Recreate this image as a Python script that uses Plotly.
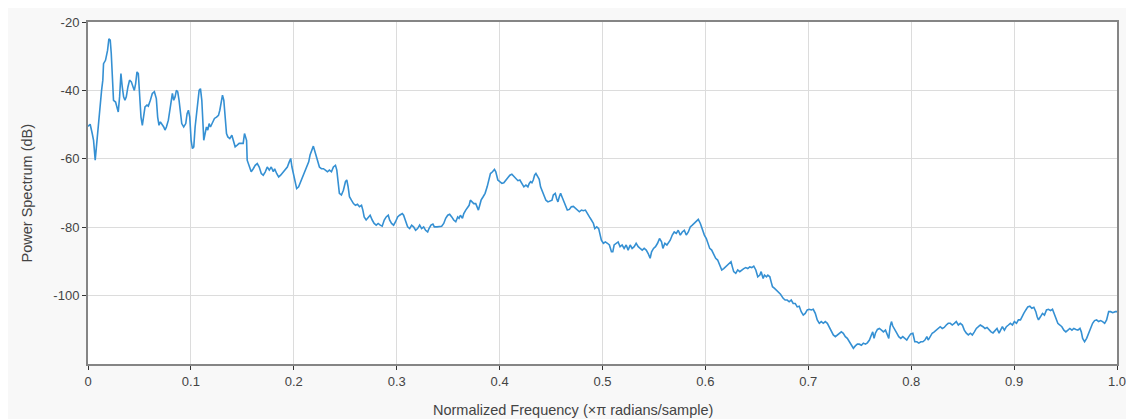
import plotly.graph_objects as go

# Normalized frequency (x pi rad/sample) and power spectrum estimate (dB)
freq = [
    0.0000, 0.0021, 0.0041, 0.0054, 0.0070, 0.0086, 0.0106, 0.0119, 0.0132, 0.0144,
    0.0151, 0.0170, 0.0190, 0.0203, 0.0216, 0.0226, 0.0235, 0.0248, 0.0268, 0.0281,
    0.0294, 0.0307, 0.0320, 0.0333, 0.0346, 0.0359, 0.0372, 0.0388, 0.0404, 0.0421,
    0.0437, 0.0450, 0.0463, 0.0476, 0.0489, 0.0502, 0.0515, 0.0528, 0.0541, 0.0554,
    0.0573, 0.0586, 0.0606, 0.0625, 0.0645, 0.0664, 0.0677, 0.0690, 0.0703, 0.0716,
    0.0736, 0.0748, 0.0762, 0.0781, 0.0794, 0.0807, 0.0820, 0.0833, 0.0846, 0.0859,
    0.0872, 0.0885, 0.0898, 0.0911, 0.0930, 0.0950, 0.0963, 0.0976, 0.0989, 0.1002,
    0.1015, 0.1028, 0.1041, 0.1054, 0.1067, 0.1080, 0.1093, 0.1106, 0.1119, 0.1125,
    0.1138, 0.1151, 0.1164, 0.1177, 0.1190, 0.1203, 0.1216, 0.1229, 0.1249, 0.1268,
    0.1281, 0.1294, 0.1307, 0.1320, 0.1333, 0.1346, 0.1359, 0.1378, 0.1398, 0.1411,
    0.1430, 0.1450, 0.1469, 0.1489, 0.1508, 0.1521, 0.1541, 0.1547, 0.1567, 0.1586,
    0.1606, 0.1625, 0.1645, 0.1664, 0.1684, 0.1703, 0.1723, 0.1742, 0.1762, 0.1781,
    0.1801, 0.1814, 0.1833, 0.1853, 0.1872, 0.1898, 0.1917, 0.1937, 0.1956, 0.1970,
    0.1982, 0.1995, 0.2008, 0.2028, 0.2047, 0.2067, 0.2086, 0.2106, 0.2125, 0.2145,
    0.2158, 0.2177, 0.2190, 0.2210, 0.2229, 0.2249, 0.2268, 0.2288, 0.2307, 0.2327,
    0.2346, 0.2366, 0.2385, 0.2405, 0.2418, 0.2431, 0.2443, 0.2463, 0.2482, 0.2502,
    0.2515, 0.2528, 0.2541, 0.2560, 0.2580, 0.2599, 0.2619, 0.2638, 0.2658, 0.2671,
    0.2684, 0.2703, 0.2723, 0.2742, 0.2762, 0.2781, 0.2801, 0.2820, 0.2840, 0.2859,
    0.2879, 0.2898, 0.2918, 0.2931, 0.2950, 0.2970, 0.2989, 0.3009, 0.3028, 0.3054,
    0.3067, 0.3087, 0.3106, 0.3126, 0.3145, 0.3164, 0.3184, 0.3203, 0.3223, 0.3242,
    0.3262, 0.3281, 0.3301, 0.3314, 0.3333, 0.3352, 0.3366, 0.3392, 0.3418, 0.3437,
    0.3457, 0.3476, 0.3496, 0.3515, 0.3535, 0.3554, 0.3574, 0.3593, 0.3606, 0.3619,
    0.3639, 0.3652, 0.3671, 0.3684, 0.3704, 0.3716, 0.3736, 0.3749, 0.3768, 0.3782,
    0.3794, 0.3807, 0.3820, 0.3840, 0.3859, 0.3879, 0.3892, 0.3911, 0.3931, 0.3950,
    0.3963, 0.3983, 0.4002, 0.4022, 0.4041, 0.4061, 0.4080, 0.4100, 0.4119, 0.4139,
    0.4158, 0.4178, 0.4197, 0.4217, 0.4236, 0.4256, 0.4275, 0.4288, 0.4301, 0.4314,
    0.4327, 0.4340, 0.4353, 0.4372, 0.4385, 0.4398, 0.4411, 0.4431, 0.4450, 0.4470,
    0.4489, 0.4509, 0.4522, 0.4541, 0.4554, 0.4567, 0.4580, 0.4593, 0.4606, 0.4619,
    0.4639, 0.4658, 0.4678, 0.4697, 0.4717, 0.4736, 0.4756, 0.4775, 0.4795, 0.4814,
    0.4834, 0.4853, 0.4873, 0.4892, 0.4912, 0.4925, 0.4944, 0.4963, 0.4976, 0.4989,
    0.5009, 0.5028, 0.5048, 0.5067, 0.5087, 0.5100, 0.5113, 0.5132, 0.5152, 0.5171,
    0.5191, 0.5210, 0.5230, 0.5249, 0.5269, 0.5288, 0.5308, 0.5327, 0.5347, 0.5366,
    0.5386, 0.5405, 0.5425, 0.5444, 0.5463, 0.5477, 0.5496, 0.5515, 0.5535, 0.5554,
    0.5574, 0.5587, 0.5606, 0.5626, 0.5645, 0.5658, 0.5678, 0.5697, 0.5717, 0.5736,
    0.5756, 0.5775, 0.5795, 0.5814, 0.5834, 0.5853, 0.5873, 0.5892, 0.5912, 0.5931,
    0.5951, 0.5970, 0.5990, 0.6009, 0.6022, 0.6042, 0.6061, 0.6081, 0.6100, 0.6119,
    0.6139, 0.6159, 0.6178, 0.6197, 0.6217, 0.6236, 0.6249, 0.6262, 0.6275, 0.6295,
    0.6314, 0.6334, 0.6353, 0.6373, 0.6392, 0.6412, 0.6431, 0.6451, 0.6470, 0.6490,
    0.6509, 0.6529, 0.6542, 0.6561, 0.6574, 0.6594, 0.6607, 0.6626, 0.6639, 0.6652,
    0.6672, 0.6691, 0.6711, 0.6730, 0.6756, 0.6775, 0.6795, 0.6814, 0.6834, 0.6853,
    0.6873, 0.6892, 0.6912, 0.6931, 0.6951, 0.6970, 0.6990, 0.7009, 0.7029, 0.7048,
    0.7068, 0.7087, 0.7107, 0.7126, 0.7146, 0.7165, 0.7185, 0.7204, 0.7224, 0.7243,
    0.7263, 0.7282, 0.7301, 0.7321, 0.7340, 0.7360, 0.7379, 0.7399, 0.7418, 0.7438,
    0.7457, 0.7477, 0.7496, 0.7516, 0.7535, 0.7555, 0.7574, 0.7594, 0.7613, 0.7626,
    0.7639, 0.7652, 0.7672, 0.7691, 0.7711, 0.7730, 0.7750, 0.7769, 0.7782, 0.7795,
    0.7808, 0.7821, 0.7840, 0.7860, 0.7879, 0.7899, 0.7918, 0.7938, 0.7957, 0.7977,
    0.7996, 0.8016, 0.8035, 0.8055, 0.8074, 0.8094, 0.8113, 0.8133, 0.8152, 0.8165,
    0.8185, 0.8204, 0.8224, 0.8243, 0.8263, 0.8282, 0.8302, 0.8321, 0.8341, 0.8360,
    0.8380, 0.8399, 0.8419, 0.8438, 0.8458, 0.8477, 0.8497, 0.8516, 0.8536, 0.8555,
    0.8575, 0.8594, 0.8614, 0.8633, 0.8653, 0.8672, 0.8698, 0.8717, 0.8737, 0.8756,
    0.8776, 0.8795, 0.8815, 0.8834, 0.8854, 0.8867, 0.8886, 0.8906, 0.8925, 0.8945,
    0.8964, 0.8984, 0.9003, 0.9023, 0.9042, 0.9062, 0.9075, 0.9094, 0.9114, 0.9133,
    0.9153, 0.9172, 0.9192, 0.9211, 0.9224, 0.9237, 0.9256, 0.9276, 0.9295, 0.9315,
    0.9334, 0.9354, 0.9373, 0.9393, 0.9406, 0.9425, 0.9445, 0.9464, 0.9484, 0.9503,
    0.9523, 0.9542, 0.9562, 0.9581, 0.9601, 0.9620, 0.9640, 0.9653, 0.9666, 0.9685,
    0.9705, 0.9724, 0.9743, 0.9763, 0.9782, 0.9802, 0.9821, 0.9841, 0.9860, 0.9880,
    0.9899, 0.9919, 0.9938, 0.9958, 0.9984, 1.0000,
]

power_db = [
    -50.5, -49.9, -52.6, -54.6, -60.4, -54.6, -48.7, -44.8, -40.0, -37.0,
    -32.2, -31.2, -28.3, -24.9, -25.3, -29.2, -37.0, -42.9, -43.4, -44.8,
    -46.3, -41.9, -35.1, -39.0, -41.9, -42.9, -41.9, -39.0, -37.0, -37.5,
    -39.0, -40.0, -38.0, -34.6, -35.1, -42.9, -47.8, -50.2, -47.8, -44.8,
    -44.3, -44.6, -42.9, -40.9, -40.4, -42.4, -47.8, -50.2, -49.2, -49.7,
    -50.7, -51.6, -50.7, -48.7, -45.8, -42.9, -40.9, -42.9, -41.9, -40.0,
    -40.4, -42.9, -46.8, -49.7, -50.7, -49.7, -46.8, -45.8, -47.8, -54.6,
    -57.0, -56.5, -50.7, -46.8, -42.9, -40.0, -39.5, -42.9, -50.7, -54.6,
    -52.6, -50.7, -51.6, -49.7, -50.7, -49.7, -48.7, -48.2, -47.8, -47.3,
    -45.8, -42.9, -41.4, -42.9, -47.8, -52.6, -53.6, -54.1, -53.1, -54.6,
    -56.5, -56.0, -55.5, -55.5, -55.5, -52.6, -54.6, -60.4, -62.4, -63.8,
    -62.9, -61.9, -61.4, -62.4, -64.3, -64.8, -63.8, -62.4, -63.3, -62.4,
    -63.8, -62.9, -64.3, -65.3, -64.8, -63.8, -63.3, -62.4, -60.9, -59.9,
    -62.4, -64.3, -66.7, -68.7, -68.2, -66.7, -65.3, -63.8, -62.4, -60.9,
    -58.9, -57.0, -56.3, -58.4, -60.4, -62.4, -62.9, -62.9, -63.3, -63.8,
    -63.3, -63.8, -62.4, -61.9, -63.3, -66.2, -70.1, -70.6, -69.2, -66.7,
    -66.2, -68.2, -71.1, -72.1, -73.1, -73.6, -73.3, -74.0, -73.6, -75.0,
    -77.0, -77.9, -77.0, -76.5, -77.9, -78.9, -79.4, -78.9, -79.4, -79.7,
    -77.9, -77.0, -76.5, -77.9, -78.9, -79.4, -78.4, -77.0, -76.5, -76.0,
    -76.5, -78.4, -79.9, -80.4, -79.4, -79.9, -80.9, -80.4, -79.4, -80.4,
    -79.9, -80.9, -81.4, -80.4, -79.4, -79.1, -79.9, -79.9, -79.7, -79.7,
    -78.9, -77.4, -76.5, -76.2, -77.0, -77.9, -78.4, -77.0, -77.4, -76.5,
    -77.4, -76.0, -75.0, -74.5, -73.6, -72.1, -72.6, -73.1, -73.1, -74.0,
    -75.0, -73.6, -72.1, -71.1, -70.1, -68.2, -66.2, -64.3, -63.8, -63.1,
    -63.8, -66.2, -66.7, -67.2, -67.0, -66.2, -65.7, -64.8, -64.5, -65.1,
    -65.7, -66.4, -66.2, -67.2, -68.2, -67.7, -68.2, -67.2, -66.7, -67.0,
    -66.2, -64.8, -64.3, -65.3, -66.0, -68.2, -69.2, -70.6, -72.1, -72.6,
    -72.4, -72.1, -70.6, -70.1, -71.6, -72.6, -71.1, -70.1, -71.1, -72.1,
    -74.0, -75.0, -74.8, -74.0, -73.9, -74.5, -75.0, -75.5, -75.0, -75.2,
    -75.0, -76.2, -77.0, -77.9, -78.9, -80.4, -79.9, -80.4, -81.8, -83.8,
    -84.7, -84.3, -84.7, -85.2, -87.2, -87.2, -85.2, -84.7, -84.3, -85.7,
    -85.2, -86.2, -85.2, -86.7, -85.2, -86.2, -85.7, -84.7, -85.7, -86.2,
    -86.7, -86.2, -86.7, -87.7, -89.1, -87.2, -86.2, -85.7, -84.7, -83.3,
    -84.3, -86.2, -84.7, -85.2, -84.3, -83.8, -82.3, -81.4, -81.8, -80.9,
    -82.3, -81.4, -80.9, -82.3, -81.4, -79.9, -79.4, -78.9, -78.1, -77.7,
    -78.9, -80.9, -82.3, -83.3, -84.7, -86.2, -86.7, -88.2, -89.1, -89.6,
    -91.1, -92.5, -92.1, -91.6, -91.1, -90.4, -90.1, -91.6, -93.0, -93.5,
    -92.5, -93.0, -92.5, -92.1, -91.8, -92.1, -91.6, -91.8, -91.4, -92.5,
    -94.5, -94.0, -93.0, -95.0, -94.0, -94.5, -94.0, -94.5, -96.0, -97.4,
    -97.9, -98.4, -98.9, -99.6, -100.8, -101.3, -101.3, -101.8, -101.3, -102.3,
    -102.3, -103.3, -103.1, -104.7, -105.7, -105.2, -104.2, -104.0, -104.2, -104.0,
    -105.2, -107.1, -108.1, -107.6, -108.1, -107.6, -108.1, -109.1, -110.1, -111.5,
    -112.0, -111.5, -111.0, -110.6, -111.0, -112.0, -112.5, -113.5, -114.5, -115.4,
    -114.7, -114.2, -114.2, -114.5, -113.9, -114.2, -113.8, -113.0, -111.5, -110.6,
    -112.5, -111.0, -109.9, -109.6, -110.1, -110.6, -110.1, -111.5, -112.5, -109.1,
    -107.6, -108.9, -110.1, -111.0, -112.0, -112.5, -112.0, -112.5, -113.0, -112.0,
    -111.2, -111.0, -113.5, -113.5, -113.9, -113.5, -113.5, -113.0, -112.0, -113.0,
    -112.0, -111.0, -110.6, -110.1, -109.6, -109.1, -109.6, -109.3, -108.6, -108.1,
    -108.1, -108.6, -108.1, -107.6, -108.6, -108.1, -108.6, -110.1, -111.0, -111.5,
    -111.0, -111.5, -110.6, -109.6, -109.1, -108.6, -109.1, -109.6, -109.3, -110.1,
    -110.6, -110.9, -110.1, -109.6, -111.0, -110.1, -109.1, -110.1, -109.1, -108.6,
    -108.1, -108.6, -107.6, -108.1, -107.1, -107.1, -106.2, -105.2, -104.2, -103.3,
    -103.1, -103.7, -103.4, -104.7, -106.2, -107.1, -106.2, -105.2, -105.7, -104.2,
    -104.0, -104.4, -104.0, -105.7, -107.1, -108.1, -108.6, -109.1, -110.1, -110.6,
    -110.1, -109.6, -110.1, -109.6, -109.9, -110.1, -109.6, -110.6, -112.5, -113.5,
    -112.5, -111.0, -109.1, -108.1, -107.3, -107.1, -107.6, -107.3, -107.6, -108.1,
    -107.1, -104.7, -104.7, -105.0, -104.7, -104.7,
]

x_tick_vals = [0, 0.1, 0.2, 0.3, 0.4, 0.5, 0.6, 0.7, 0.8, 0.9, 1.0]
x_tick_text = ["0", "0.1", "0.2", "0.3", "0.4", "0.5", "0.6", "0.7", "0.8", "0.9", "1.0"]
y_tick_vals = [-100, -80, -60, -40, -20]
y_tick_text = ["-100", "-80", "-60", "-40", "-20"]

x_title = "Normalized Frequency (\u00d7\u03c0 radians/sample)"
y_title = "Power Spectrum (dB)"

FONT = "Arial, 'Liberation Sans', sans-serif"
TEXT_COLOR = "#444444"

fig = go.Figure()
fig.add_trace(go.Scatter(
    x=freq, y=power_db, mode="lines",
    line=dict(color="#3590d3", width=1.6),
    hoverinfo="x+y", showlegend=False,
))

axis_common = dict(
    automargin=False,
    ticklabeloverflow="allow",
    showline=True, linecolor="#858585", linewidth=2, mirror=True,
    showgrid=True, gridcolor="#dcdcdc", gridwidth=1,
    zeroline=False,
    ticks="outside", ticklen=4, tickcolor="#333333", tickwidth=1,
    tickfont=dict(family=FONT, size=13, color=TEXT_COLOR),
)

fig.update_xaxes(range=[0, 1], tickvals=x_tick_vals, ticktext=x_tick_text, **axis_common)
fig.update_yaxes(range=[-120, -20], tickvals=y_tick_vals, ticktext=y_tick_text, **axis_common)

fig.update_layout(
    width=1126, height=419,
    margin=dict(l=88, r=9, t=22, b=55, pad=0, autoexpand=False),
    paper_bgcolor="#f8f8f8",
    plot_bgcolor="#ffffff",
    font=dict(family=FONT, color=TEXT_COLOR),
    annotations=[
        dict(text=x_title, xref="paper", yref="paper", x=0.4715, y=-0.135,
             xanchor="center", yanchor="middle", showarrow=False,
             font=dict(family=FONT, size=14.5, color=TEXT_COLOR)),
        dict(text=y_title, xref="paper", yref="paper", x=-0.0588, y=0.5,
             xanchor="center", yanchor="middle", textangle=-90, showarrow=False,
             font=dict(family=FONT, size=14.5, color=TEXT_COLOR)),
    ],
    shapes=[
        # white page margin above and left of the grey chart panel
        dict(type="rect", xref="paper", yref="paper", x0=-0.2, x1=1.2, y0=1.0409, y1=1.3,
             fillcolor="#ffffff", line=dict(width=0), layer="below"),
        dict(type="rect", xref="paper", yref="paper", x0=-0.2, x1=-0.0777, y0=-0.4, y1=1.3,
             fillcolor="#ffffff", line=dict(width=0), layer="below"),
    ],
)

fig.write_html("out.html", include_plotlyjs=True, config={"displayModeBar": False})
